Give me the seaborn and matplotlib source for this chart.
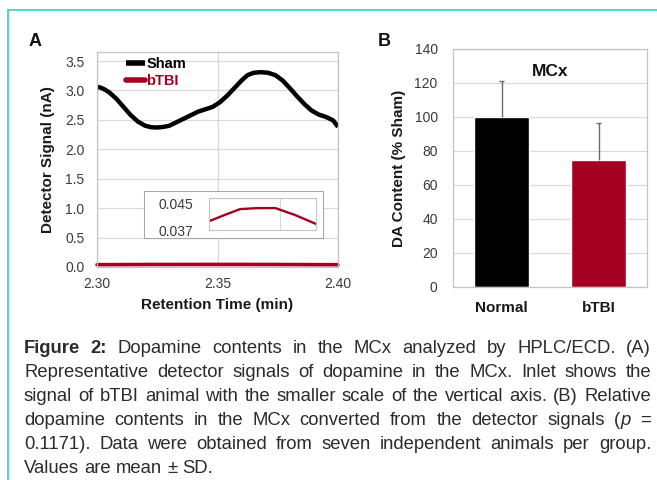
import re
import numpy as np
import pandas as pd
import matplotlib
matplotlib.use("Agg")
import matplotlib.pyplot as plt
import seaborn as sns
from matplotlib.lines import Line2D

# ---------------- data ----------------
time_sham = [2.300, 2.3014, 2.303, 2.305, 2.308, 2.311, 2.314, 2.317, 2.320, 2.3225,
             2.325, 2.3275, 2.330, 2.333, 2.336, 2.339, 2.342, 2.345, 2.348, 2.351,
             2.354, 2.357, 2.360, 2.3625, 2.365, 2.368, 2.371, 2.374, 2.377, 2.380,
             2.383, 2.386, 2.389, 2.392, 2.395, 2.398, 2.400]
signal_sham = [3.06, 3.05, 3.02, 2.97, 2.86, 2.72, 2.58, 2.47, 2.40, 2.375,
               2.37, 2.38, 2.40, 2.46, 2.52, 2.58, 2.64, 2.68, 2.72, 2.80,
               2.91, 3.04, 3.17, 3.26, 3.30, 3.31, 3.30, 3.26, 3.17, 3.04,
               2.90, 2.77, 2.66, 2.59, 2.55, 2.49, 2.38]

time_tbi = [2.300, 2.315, 2.329, 2.345, 2.362, 2.380, 2.400]
signal_tbi = [0.0396, 0.0415, 0.0432, 0.0435, 0.0435, 0.0415, 0.0388]

groups = ["Normal", "bTBI"]
da_mean = [100.0, 74.5]
da_sd = [21.0, 22.0]

a_yticks = [0.0, 0.5, 1.0, 1.5, 2.0, 2.5, 3.0, 3.5]
a_xticks = [2.30, 2.35, 2.40]
inset_yticks = [0.037, 0.045]
b_yticks = [0, 20, 40, 60, 80, 100, 120, 140]

caption_lines = [
    "**Figure** **2:** Dopamine contents in the MCx analyzed by HPLC/ECD. (A)",
    "Representative detector signals of dopamine in the MCx. Inlet shows the",
    "signal of bTBI animal with the smaller scale of the vertical axis. (B) Relative",
    "dopamine contents in the MCx converted from the detector signals (*p* =",
    "0.1171). Data were obtained from seven independent animals per group.",
    "Values are mean \u00b1 SD.",
]

# ---------------- style ----------------
sns.set_style("white")
plt.rcParams["font.family"] = ["Liberation Sans", "DejaVu Sans"]

RED = "#a50021"
GRID = "#d9d9d9"
FRAME = "#c4c4c4"
TXT = "#2b2b2b"
TICK = "#3a3a3a"

W, H = 657, 480
fig = plt.figure(figsize=(W / 100, H / 100), dpi=100)


def fx(px):
    return px / W


def fy(py):
    return 1 - py / H


# teal border
fig.add_artist(Line2D([fx(8), 1.0], [fy(10), fy(10)], color="#45d1c1", lw=1.3))
fig.add_artist(Line2D([fx(8), fx(8)], [fy(10), 0.0], color="#45d1c1", lw=1.3))

# ---------------- panel A ----------------
ax1 = fig.add_axes([fx(97), fy(267), fx(338) - fx(97), fy(52) - fy(267)])
sns.lineplot(x=time_sham, y=signal_sham, ax=ax1, color="black", lw=3.2, label="Sham",
             solid_joinstyle="round", solid_capstyle="butt")
sns.lineplot(x=time_tbi, y=signal_tbi, ax=ax1, color=RED, lw=2.6, label="bTBI")
ax1.lines[-1].set_clip_on(False)
ax1.set_xlim(2.30, 2.40)
ax1.set_ylim(0, 3.653)
ax1.set_yticks(a_yticks)
ax1.set_yticklabels([f"{v:.1f}" for v in a_yticks])
ax1.set_xticks(a_xticks)
ax1.set_xticklabels([f"{v:.2f}" for v in a_xticks])
ax1.grid(True, color=GRID, lw=0.9)
ax1.set_axisbelow(True)
for s in ax1.spines.values():
    s.set_color(FRAME)
    s.set_linewidth(0.9)
ax1.tick_params(axis="both", length=0, labelsize=10, labelcolor=TICK)
ax1.tick_params(axis="y", pad=9)
ax1.tick_params(axis="x", pad=7)
ax1.set_xlabel("Retention Time (min)", fontsize=11, fontweight="bold", color="#1a1a1a", labelpad=5)
ax1.set_ylabel("Detector Signal (nA)", fontsize=11, fontweight="bold", color="#1a1a1a", labelpad=7)
leg = ax1.legend(loc="upper left", bbox_to_anchor=(0.12, 0.975), frameon=False,
                 handlelength=1.3, handletextpad=0.1, labelspacing=0.2,
                 borderpad=0, borderaxespad=0, prop={"weight": "bold", "size": 10.5})
for txt, col in zip(leg.get_texts(), ["black", RED]):
    txt.set_color(col)
for h in leg.get_lines():
    h.set_linewidth(4)

# inset box
axbox = fig.add_axes([fx(144), fy(238), fx(323) - fx(144), fy(191) - fy(238)], zorder=5)
axbox.set_xticks([])
axbox.set_yticks([])
axbox.set_facecolor("white")
for s in axbox.spines.values():
    s.set_color("#a8a8a8")
    s.set_linewidth(0.8)

axin = fig.add_axes([fx(209), fy(230), fx(316) - fx(209), fy(198) - fy(230)], zorder=6)
sns.lineplot(x=time_tbi, y=signal_tbi, ax=axin, color=RED, lw=1.7)
axin.set_xlim(2.30, 2.40)
axin.set_ylim(0.037, 0.0465)
axin.set_yticks(inset_yticks)
axin.set_yticklabels(["0.037", "0.045"])
axin.set_xticks([2.366])
axin.set_xticklabels([])
axin.grid(True, axis="x", color=GRID, lw=0.9)
axin.set_axisbelow(True)
for s in axin.spines.values():
    s.set_color(FRAME)
    s.set_linewidth(0.8)
axin.tick_params(axis="both", length=0, labelsize=10, labelcolor=TICK)
axin.tick_params(axis="y", pad=11)

# ---------------- panel B ----------------
ax2 = fig.add_axes([fx(453), fy(287), fx(647) - fx(453), fy(49) - fy(287)])
df = pd.DataFrame({"group": groups, "mean": da_mean, "sd": da_sd})
sns.barplot(data=df, x="group", y="mean", hue="group", palette=["black", RED],
            ax=ax2, width=0.57, errorbar=None, legend=False, saturation=1)
xpos = np.arange(len(groups))
tops = df["mean"] + df["sd"]
ax2.vlines(xpos, df["mean"], tops, color="#6b6b6b", lw=1.0, zorder=3)
ax2.hlines(tops, xpos - 0.03, xpos + 0.03, color="#6b6b6b", lw=1.0, zorder=3)
ax2.set_xlim(-0.5, 1.5)
ax2.set_ylim(0, 140)
ax2.set_yticks(b_yticks)
ax2.grid(True, axis="y", color=GRID, lw=0.9)
ax2.set_axisbelow(True)
for s in ax2.spines.values():
    s.set_color(FRAME)
    s.set_linewidth(0.9)
ax2.tick_params(axis="both", length=0, labelsize=10, labelcolor=TICK)
ax2.tick_params(axis="y", pad=11)
ax2.tick_params(axis="x", pad=10)
for lab in ax2.get_xticklabels():
    lab.set_fontweight("bold")
    lab.set_fontsize(11)
    lab.set_color("#1a1a1a")
ax2.set_xlabel("")
ax2.set_ylabel("DA Content (% Sham)", fontsize=11, fontweight="bold", color="#1a1a1a", labelpad=6)
ax2.text(0.5, 0.905, "MCx", transform=ax2.transAxes, ha="center", va="center",
         fontsize=12.5, fontweight="bold", color="#111111")

# panel labels
fig.text(fx(35), fy(41), "A", fontsize=13, fontweight="bold", ha="center", va="center", color="#111111")
fig.text(fx(384), fy(42), "B", fontsize=13, fontweight="bold", ha="center", va="center", color="#111111")

# ---------------- caption (justified) ----------------
CAP_SIZE = 13.3
x_left, x_right = 24, 651
base0, dy = 353, 24
renderer = fig.canvas.get_renderer()


def parse_word(word):
    segs = []
    for part in re.findall(r"\*\*.+?\*\*|\*.+?\*|[^*]+", word):
        if part.startswith("**"):
            segs.append((part[2:-2], "bold", "normal"))
        elif part.startswith("*"):
            segs.append((part[1:-1], "normal", "italic"))
        else:
            segs.append((part, "normal", "normal"))
    return segs


_t1 = fig.text(0, 0, "a a", fontsize=CAP_SIZE)
_t2 = fig.text(0, 0, "aa", fontsize=CAP_SIZE)
space_w = _t1.get_window_extent(renderer).width - _t2.get_window_extent(renderer).width
_t1.remove()
_t2.remove()

for i, line in enumerate(caption_lines):
    yb = fy(base0 + i * dy)
    words = [parse_word(w) for w in line.split(" ")]
    word_arts = []
    widths = []
    for segs in words:
        arts = []
        wsum = 0
        for text, weight, style in segs:
            t = fig.text(0, yb, text, fontsize=CAP_SIZE, fontweight=weight, fontstyle=style,
                         color=TXT, va="baseline", ha="left")
            w = t.get_window_extent(renderer).width
            arts.append((t, w))
            wsum += w
        word_arts.append(arts)
        widths.append(wsum)
    last = i == len(caption_lines) - 1
    if last or len(words) == 1:
        gap = space_w
    else:
        gap = (x_right - x_left - sum(widths)) / (len(words) - 1)
        gap = max(gap, space_w * 0.6)
    x = x_left
    for arts, wsum in zip(word_arts, widths):
        xx = x
        for t, w in arts:
            t.set_x(fx(xx))
            xx += w
        x += wsum + gap

fig.savefig("out.png", dpi=100)
